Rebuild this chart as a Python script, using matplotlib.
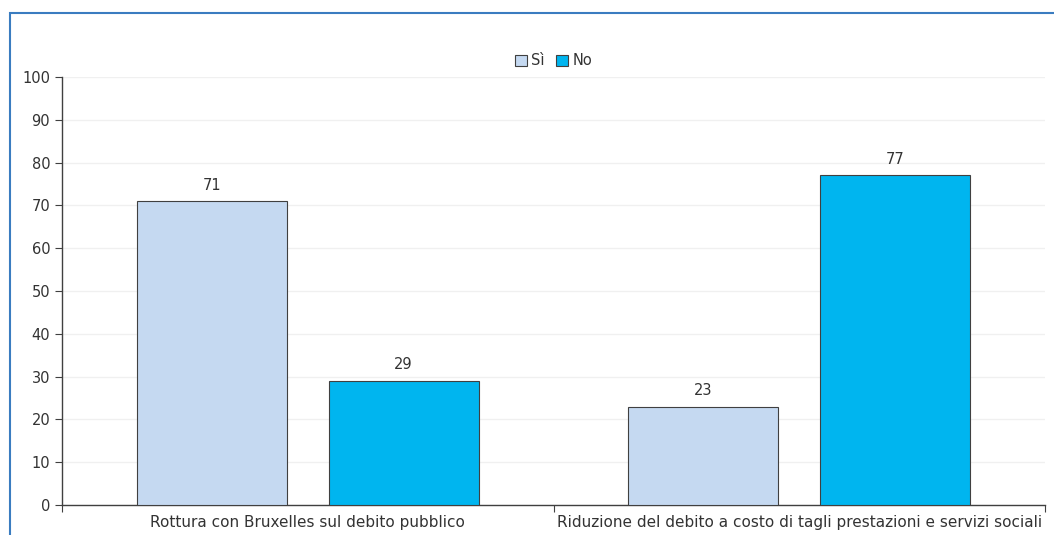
import numpy as np
import matplotlib.pyplot as plt
from matplotlib.patches import Rectangle

categories = ['Rottura con Bruxelles sul debito pubblico',
              'Riduzione del debito a costo di tagli prestazioni e servizi sociali']
si = [71, 23]
no = [29, 77]

c_si = '#C5D9F1'
c_no = '#00B5EF'
edge = '#404040'
txt = '#333333'

fig = plt.figure(figsize=(10.54, 5.35), dpi=100)
ax = fig.add_axes([62/1054, 1 - 505/535, (1045 - 62)/1054, (505 - 77)/535])

# blue frame around the chart (cut off at right/bottom)
fig.patches.append(Rectangle((10/1054, -0.1), 1.2, 1 - 13/535 + 0.1, transform=fig.transFigure,
                             fill=False, edgecolor='#3A7CC0', linewidth=1.5))

x = np.arange(len(categories))
w = 0.305
off = 0.195
b1 = ax.bar(x - off, si, w, color=c_si, edgecolor=edge, linewidth=0.8, label='Sì', zorder=3)
b2 = ax.bar(x + off, no, w, color=c_no, edgecolor=edge, linewidth=0.8, label='No', zorder=3)

for bars in (b1, b2):
    for r in bars:
        ax.text(r.get_x() + r.get_width() / 2, r.get_height() + 2, f'{r.get_height():.0f}',
                ha='center', va='bottom', fontsize=10.5, color=txt)

ax.set_xlim(-0.5, 1.5)
ax.set_ylim(0, 100)
ax.set_yticks(range(0, 101, 10))
ax.set_xticks([-0.5, 0.5, 1.5])
ax.set_xticklabels([])
ax.set_xticks(x, minor=True)
ax.set_xticklabels(categories, minor=True)
ax.tick_params(axis='x', which='minor', length=0, pad=7, labelsize=11, labelcolor=txt)
ax.tick_params(axis='x', which='major', length=5, color=edge)
ax.tick_params(axis='y', length=5, color=edge, labelsize=10.5, labelcolor=txt)
ax.grid(axis='y', color='#F0F0F0', linewidth=1, zorder=0)

for s in ['top', 'right']:
    ax.spines[s].set_visible(False)
for s in ['left', 'bottom']:
    ax.spines[s].set_color(edge)
    ax.spines[s].set_linewidth(1)

leg = ax.legend(loc='lower center', bbox_to_anchor=(0.5, 1.0), ncol=2, frameon=False,
                fontsize=10.5, handlelength=0.8, handleheight=0.8, handletextpad=0.3,
                columnspacing=0.8, borderaxespad=0.2, labelcolor=txt)

fig.savefig('out.png', dpi=100)
